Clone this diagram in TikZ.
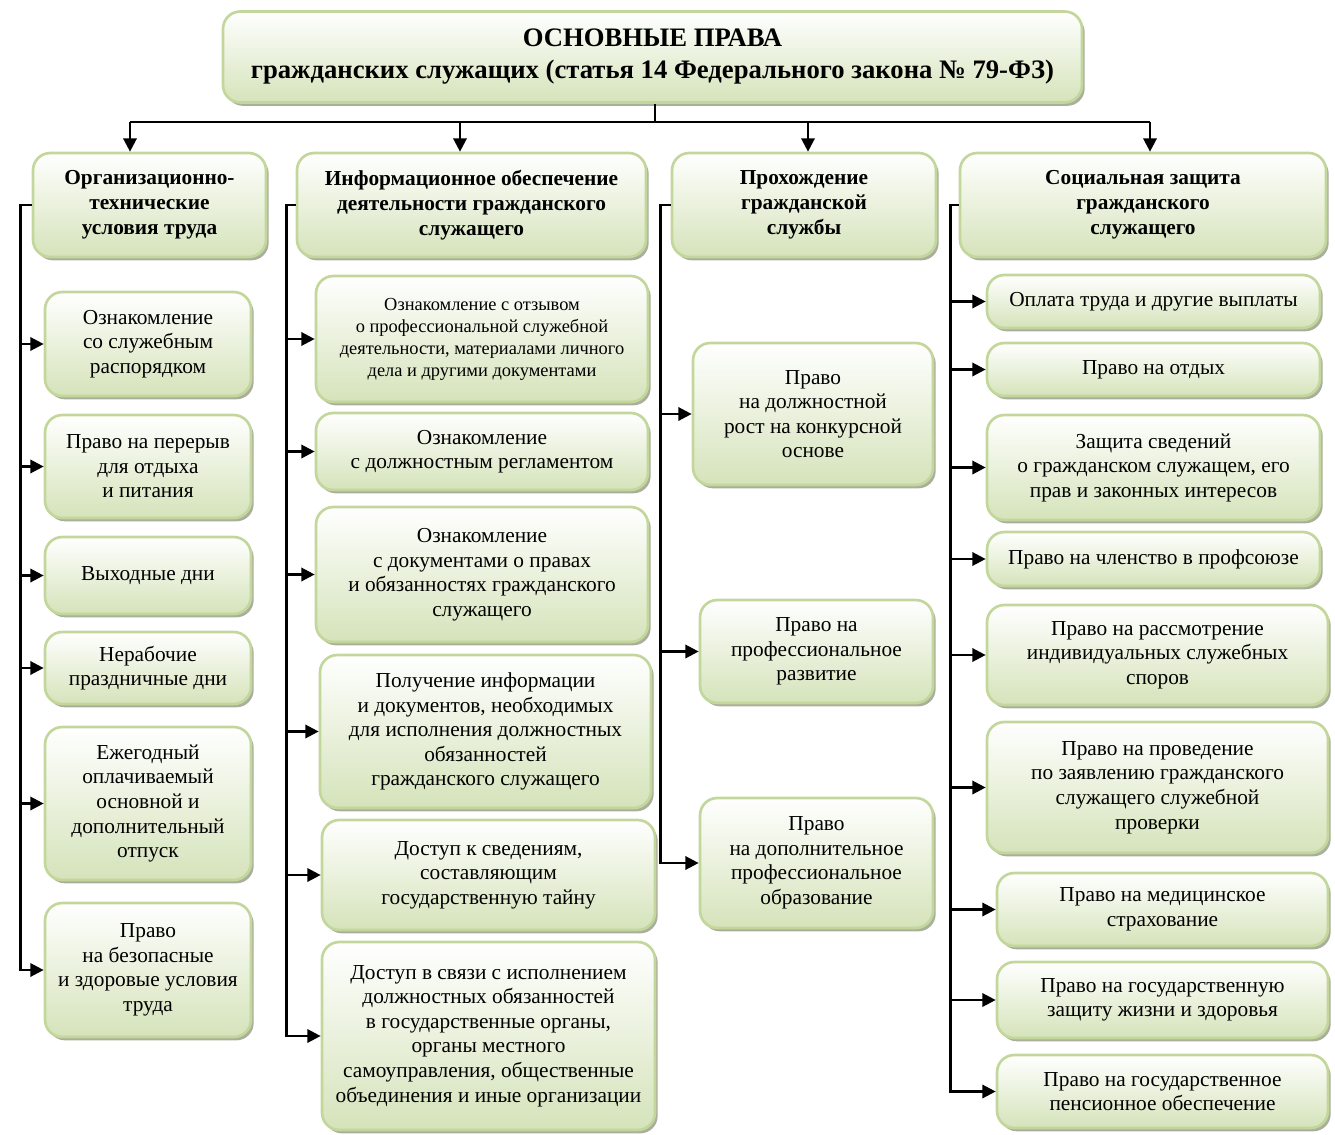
\documentclass[tikz,border=0pt]{standalone}
\usepackage{fontspec}
\setmainfont{Liberation Serif}
\usetikzlibrary{arrows.meta,shadows}

\definecolor{boxline}{RGB}{195,214,155}
\definecolor{boxfill}{RGB}{213,227,186}
\definecolor{boxshade}{RGB}{160,166,145}

\tikzset{every picture/.style={line width=0.75pt}}
\tikzset{
  boxsize/.style 2 args={minimum width=#1*0.75pt, minimum height=#2*0.75pt},
  box/.style={draw=boxline, line width=2pt, rounded corners=13pt,
    top color=white, bottom color=boxfill,
    drop shadow={shadow xshift=2pt, shadow yshift=-2.5pt, fill=boxshade, opacity=0.9},
    align=center, inner sep=2pt, font=\fontsize{16}{18.4}\selectfont},
  head/.style={box, font=\fontsize{16}{18.7}\selectfont\bfseries},
  small/.style={font=\fontsize{13.8}{16.5}\selectfont},
  arr/.style={line width=1.8pt, -{Triangle[length=10pt,width=10pt]}},
  line/.style={line width=1.8pt},
}

\begin{document}
\begin{tikzpicture}[x=0.75pt,y=0.75pt,yscale=-1,xscale=1]
        \useasboundingbox (0,0) rectangle (1335,1135);

        % Title
        \node[box, boxsize={859}{91}, font=\fontsize{20}{24}\selectfont\bfseries] (title) at (652.5,57) {ОСНОВНЫЕ ПРАВА\\гражданских служащих (статья 14 Федерального закона № 79-ФЗ)};

        % Headers
        \node[head, boxsize={233}{104}] (h1) at (149.5,205) {Организационно-\\технические\\условия труда};
        \node[head, boxsize={349}{104}] (h2) at (471.5,205) {Информационное обеспечение\\деятельности гражданского\\служащего};
        \node[head, boxsize={264}{104}] (h3) at (804,205) {Прохождение\\гражданской\\службы};
        \node[head, boxsize={366}{104}] (h4) at (1143,205) {Социальная защита\\гражданского\\служащего};

        % Column 1
        \node[box, boxsize={206}{104}] (a1) at (148,344) {Ознакомление\\со служебным\\распорядком};
        \node[box, boxsize={206}{103}] (a2) at (148,466.5) {Право на перерыв\\для отдыха\\и питания};
        \node[box, boxsize={206}{77}] (a3) at (148,575.5) {Выходные дни};
        \node[box, boxsize={206}{72}] (a4) at (148,668) {Нерабочие\\праздничные дни};
        \node[box, boxsize={206}{153}] (a5) at (148,803.5) {Ежегодный\\оплачиваемый\\основной и\\дополнительный\\отпуск};
        \node[box, boxsize={206}{134}] (a6) at (148,970) {Право\\на безопасные\\и здоровые условия\\труда};

        % Column 2
        \node[box, small, boxsize={332}{126}] (b1) at (482,339) {Ознакомление с отзывом\\о профессиональной служебной\\деятельности, материалами личного\\дела и другими документами};
        \node[box, boxsize={332}{77}] (b2) at (482,451.5) {Ознакомление\\с должностным регламентом};
        \node[box, boxsize={332}{135}] (b3) at (482,574.5) {Ознакомление\\с документами о правах\\и обязанностях гражданского\\служащего};
        \node[box, boxsize={331}{153}] (b4) at (485.5,731.5) {Получение информации\\и документов, необходимых\\для исполнения должностных\\обязанностей\\гражданского служащего};
        \node[box, boxsize={333}{110}] (b5) at (488.5,875) {Доступ к сведениям,\\составляющим\\государственную тайну};
        \node[box, boxsize={333}{188}] (b6) at (488.5,1036) {Доступ в связи с исполнением\\должностных обязанностей\\в государственные органы,\\органы местного\\самоуправления, общественные\\объединения и иные организации};

        % Column 3
        \node[box, boxsize={240}{142}] (c1) at (813,414) {Право\\на должностной\\рост на конкурсной\\основе};
        \node[box, boxsize={233}{103}] (c2) at (816.5,651.5) {Право на\\профессиональное\\развитие};
        \node[box, boxsize={233}{130}] (c3) at (816.5,863) {Право\\на дополнительное\\профессиональное\\образование};

        % Column 4
        \node[box, boxsize={333}{53}] (d1) at (1153.5,301.5) {Оплата труда и другие выплаты};
        \node[box, boxsize={333}{53}] (d2) at (1153.5,369.5) {Право на отдых};
        \node[box, boxsize={333}{105}] (d3) at (1153.5,467.5) {Защита сведений\\о гражданском служащем, его\\прав и законных интересов};
        \node[box, boxsize={333}{54}] (d4) at (1153.5,559) {Право на членство в профсоюзе};
        \node[box, boxsize={341}{100}] (d5) at (1157.5,655) {Право на рассмотрение\\индивидуальных служебных\\споров};
        \node[box, boxsize={341}{131}] (d6) at (1157.5,787.5) {Право на проведение\\по заявлению гражданского\\служащего служебной\\проверки};
        \node[box, boxsize={331}{73}] (d7) at (1162.5,909.5) {Право на медицинское\\страхование};
        \node[box, boxsize={331}{76}] (d8) at (1162.5,1000) {Право на государственную\\защиту жизни и здоровья};
        \node[box, boxsize={331}{73}] (d9) at (1162.5,1091.5) {Право на государственное\\пенсионное обеспечение};

        % Bus from title
        \coordinate (bus0) at (655,122);
        \coordinate (bus1) at (130,122);
        \coordinate (bus2) at (460,122);
        \coordinate (bus3) at (808,122);
        \coordinate (bus4) at (1150,122);
        \draw[line] (title.south -| bus0) -- (bus0);
        \draw[line] (bus1) -- (bus4);
        \draw[arr] (bus1) -- (bus1 |- h1.north);
        \draw[arr] (bus2) -- (bus2 |- h2.north);
        \draw[arr] (bus3) -- (bus3 |- h3.north);
        \draw[arr] (bus4) -- (bus4 |- h4.north);

        % Column trunks
        \foreach \n in {a1,a2,a3,a4,a5,a6}
          \draw[arr] (h1.west) -- ++(-11,0) |- (\n.west);
        \foreach \n in {b1,b2,b3,b4,b5,b6}
          \draw[arr] (h2.west) -- ++(-9,0) |- (\n.west);
        \foreach \n in {c1,c2,c3}
          \draw[arr] (h3.west) -- ++(-10,0) |- (\n.west);
        \foreach \n in {d1,d2,d3,d4,d5,d6,d7,d8,d9}
          \draw[arr] (h4.west) -- ++(-8,0) |- (\n.west);
\end{tikzpicture}
\end{document}
